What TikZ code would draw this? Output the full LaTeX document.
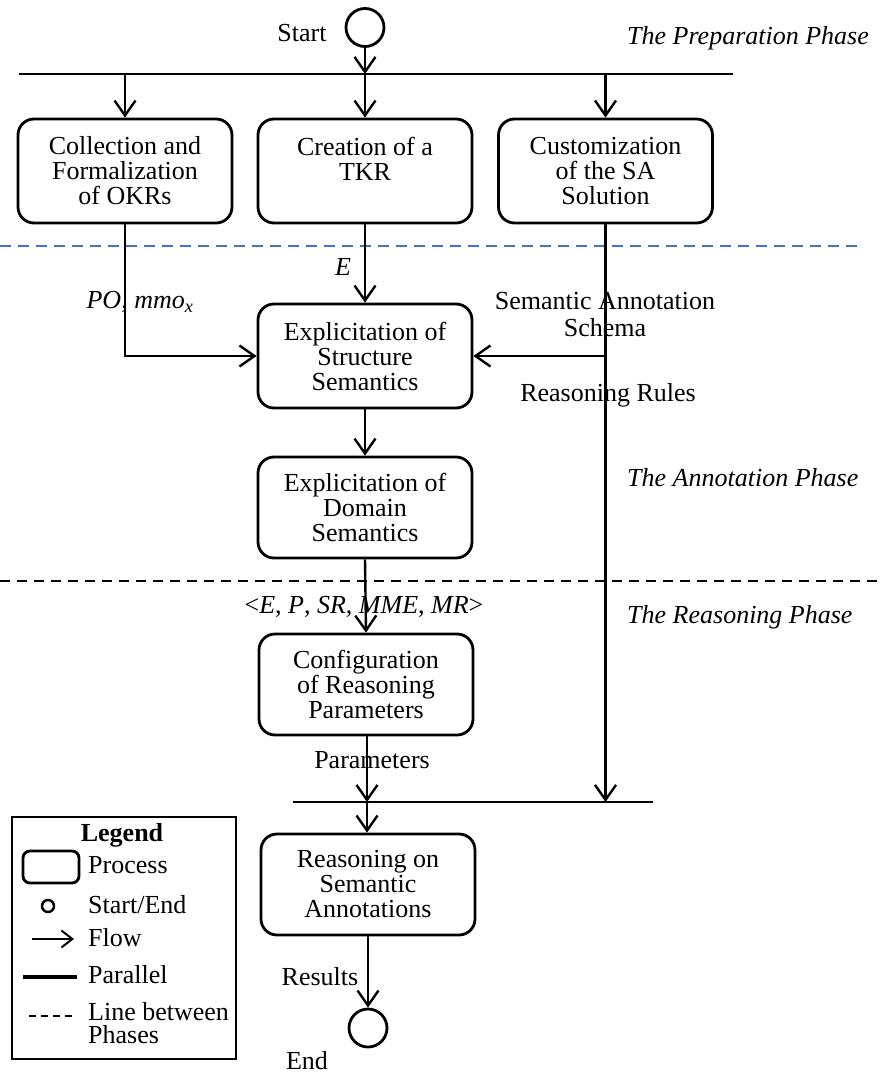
\documentclass[tikz,border=0pt]{standalone}
\usepackage{fontspec}
\setmainfont{Liberation Serif}
\usetikzlibrary{arrows.meta}
\definecolor{phaseblue}{RGB}{68,114,196}
\begin{document}
\begin{tikzpicture}[x=1pt,y=-1pt,
  font=\fontsize{26}{25}\selectfont,
  proc/.style={draw, line width=2.8pt, rounded corners=16pt, minimum width=214pt,
               minimum height=104pt, align=center, inner sep=0pt},
  flow/.style={line width=2.4pt, -{Straight Barb[length=15pt,width=21pt]}},
  parbar/.style={line width=2pt},
  term/.style={circle, draw, line width=2.8pt, minimum size=38pt, inner sep=0pt},
  lbl/.style={inner sep=0pt, align=center},
  phase/.style={inner sep=0pt, anchor=west, font=\fontsize{26}{25}\selectfont\itshape},
  legtxt/.style={inner sep=0pt, anchor=west, align=left, font=\fontsize{26}{23}\selectfont}]
\useasboundingbox (0,0) rectangle (879,1075);

% start
\node[term] (start) at (365,27.5) {};
\node[lbl] (starttxt) at (302,33) {Start};
\coordinate (bar1L) at (19,74);
\coordinate (bar1R) at (733,74);
\coordinate (b0) at (365,74);
\coordinate (b1) at (125,74);
\coordinate (b3) at (605.5,74);
\draw[parbar] (bar1L) -- (bar1R);
\draw[flow] (start) -- (b0);

% preparation boxes
\node[proc] (collect) at (125,171) {Collection and\\Formalization\\of OKRs};
\node[proc] (creation) at (365,171) {Creation of a\\TKR\\\phantom{X}};
\node[proc] (custom) at (605.5,171) {Customization\\of the SA\\Solution};
\draw[flow] (b1) -- (collect);
\draw[flow] (b0) -- (creation);
\draw[flow] (b3) -- (custom);

% phase lines
\coordinate (blueL) at (0,246);
\coordinate (blueR) at (857,246);
\draw[phaseblue, line width=2pt, dash pattern=on 11pt off 7pt] (blueL) -- (blueR);
\coordinate (blackL) at (0,581);
\coordinate (blackR) at (879,581);
\draw[black, line width=2pt, dash pattern=on 10pt off 7pt] (blackL) -- (blackR);

% phase labels
\node[phase] (p1) at (627,38) {The Preparation Phase};
\node[phase] (p2) at (627,478) {The Annotation Phase};
\node[phase] (p3) at (627,617) {The Reasoning Phase};

% annotation phase
\node[proc] (struct) at (365,356) {Explicitation of\\Structure\\Semantics};
\node[proc, minimum height=101pt] (domain) at (365,507.5) {Explicitation of\\Domain\\Semantics};
\draw[flow] (collect.south) |- (struct.west);
\draw[flow] (creation) -- (struct);
\coordinate (saj) at (605.5,356);
\coordinate (sa) at (605.5,802);
\draw[flow] (custom.south) -- (sa);
\draw[flow] (saj) -- (struct.east);
\draw[flow] (struct) -- (domain);

\node[lbl] (elbl) at (343,267) {\textit{E}};
\node[lbl] (polbl) at (140,302) {\textit{PO}, \textit{mmo}\textsubscript{\textit{x}}};
\node[lbl, font=\fontsize{26}{27}\selectfont] (salbl) at (605,315) {Semantic Annotation\\Schema};
\node[lbl] (rrlbl) at (608,395) {Reasoning Rules};

% reasoning phase
\node[lbl] (tuple) at (364,607) {<\textit{E}, \textit{P}, \textit{SR}, \textit{MME}, \textit{MR}>};
\node[proc, minimum height=101pt] (config) at (366,684.5) {Configuration\\of Reasoning\\Parameters};
\draw[flow] (domain.south) -- (config.north);
\coordinate (bar2L) at (293,802);
\coordinate (bar2R) at (653,802);
\coordinate (bar2c) at (367,802);
\draw[parbar] (bar2L) -- (bar2R);
\node[lbl] (parlbl) at (372,760) {Parameters};
\draw[flow] (config.south -| bar2c) -- (bar2c);
\node[proc, minimum height=101pt] (reason) at (368,884.5) {Reasoning on\\Semantic\\Annotations};
\draw[flow] (bar2c) -- (reason.north -| bar2c);
\node[term] (end) at (368,1028) {};
\draw[flow] (reason) -- (end);
\node[lbl] (reslbl) at (320,977) {Results};
\node[lbl] (endtxt) at (307,1061) {End};

% legend
\node[draw, line width=1.6pt, minimum width=224pt, minimum height=242pt, inner sep=0pt] (legend) at (124,938) {};
\node[lbl, font=\fontsize{26}{25}\selectfont\bfseries] (legtitle) at (122,835) {Legend};
\node[draw, line width=2.8pt, rounded corners=7pt, minimum width=56pt, minimum height=32pt, inner sep=0pt] (lproc) at (51,867) {};
\node[legtxt] (lproct) at (88,865) {Process};
\node[circle, draw, line width=2.5pt, minimum size=12pt, inner sep=0pt] (lcirc) at (48,906) {};
\node[legtxt] (lcirct) at (88,905) {Start/End};
\coordinate (lf1) at (32,939);
\coordinate (lf2) at (74,939);
\draw[line width=2pt, -{Straight Barb[length=11pt,width=17pt]}] (lf1) -- (lf2);
\node[legtxt] (lflowt) at (88,938) {Flow};
\coordinate (lp1) at (23,977);
\coordinate (lp2) at (77,977);
\draw[line width=3.8pt] (lp1) -- (lp2);
\node[legtxt] (lpart) at (88,975) {Parallel};
\coordinate (ld1) at (29,1016);
\coordinate (ld2) at (76,1016);
\draw[line width=1.5pt, dash pattern=on 7pt off 5pt] (ld1) -- (ld2);
\node[legtxt] (ldasht) at (88,1023) {Line between\\Phases};
\end{tikzpicture}
\end{document}
